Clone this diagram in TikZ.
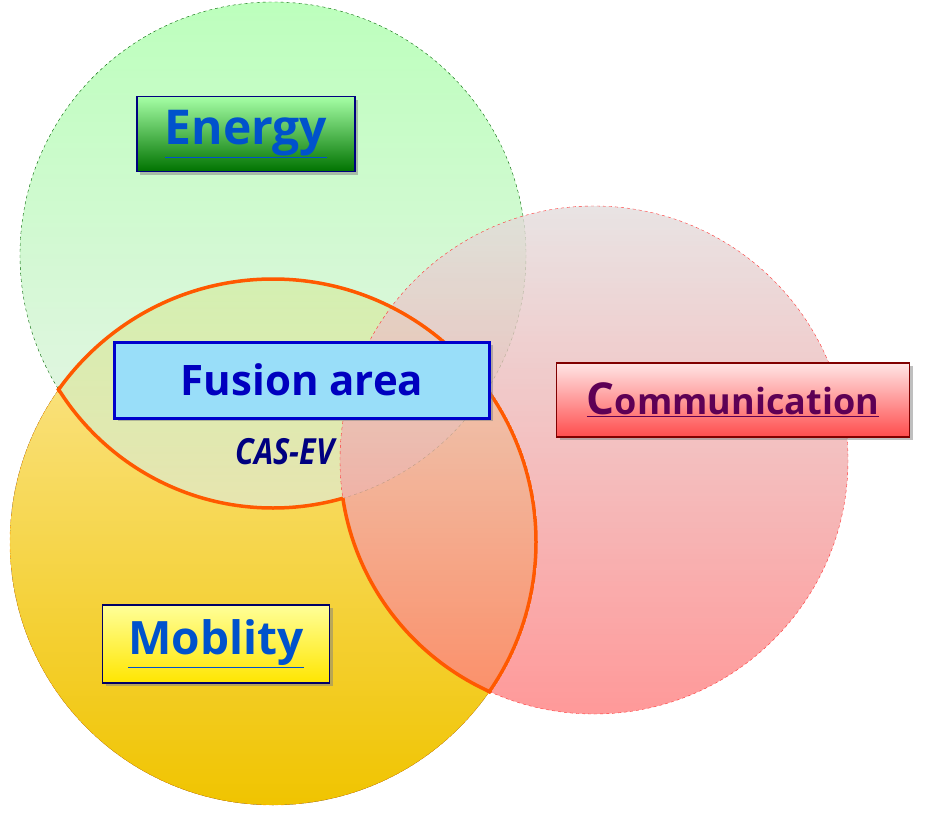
\documentclass[tikz,border=0pt]{standalone}
\usepackage{fontspec}
\setmainfont{Open Sans}
\usetikzlibrary{shadows}
\definecolor{ytop}{HTML}{FCE89A}
\definecolor{ybot}{HTML}{F0C400}
\begin{document}
\begin{tikzpicture}[x=1pt,y=-1pt,
  lbl/.style={draw=#1,line width=1.5pt,inner sep=0pt,font=\bfseries,drop shadow={shadow xshift=3pt,shadow yshift=-3pt,opacity=0.5}},
  orl/.style={draw=orange!70!red,line width=3.5pt}]
\useasboundingbox (0,0) rectangle (932,816);
\def\G{(273,255) circle (253)}
\def\P{(594,460) circle (254)}
\def\Y{(273,542) circle (263)}
% yellow
\fill[top color=ytop,bottom color=ybot] \Y;
\draw[orange!80!yellow,dashed] \Y;
\shade[top color=green!40,bottom color=green!25!gray!20!white,opacity=0.65] \G;
\draw[green!40!black,dashed] \G;
\shade[top color=red!10!gray!25!white,bottom color=red!35!pink,opacity=0.78] \P;
\draw[red!80,dashed] \P;
% fusion outline
\begin{scope}
\clip (273,542) circle (265);
\begin{scope}
\clip (-10,-10) rectangle (950,830) (594,460) circle (254);
\draw[orl] \G;
\end{scope}
\begin{scope}
\clip (-10,-10) rectangle (950,830) (273,255) circle (253);
\draw[orl] \P;
\end{scope}
\begin{scope}
\clip (273,255) circle (255) (594,460) circle (256);
\draw[orl] \Y;
\end{scope}
\end{scope}
% labels
\node[lbl=blue!50!black,top color=green!35!white,bottom color=green!45!black,minimum width=218,minimum height=75,font=\bfseries\fontsize{48}{50}\selectfont] (en) at (246,134) {\textcolor{blue!60!cyan!80!black}{\underline{Energy}}};
\node[lbl=blue!80!black,line width=3pt,fill=cyan!40,minimum width=375,minimum height=76,font=\bfseries\fontsize{42}{46}\selectfont,drop shadow={opacity=0}] (fu) at (302,380) {\textcolor{blue!75!black}{Fusion area}};
\node[font=\bfseries\itshape\fontsize{36}{38}\selectfont,text=blue!50!black,xscale=0.85] (cas) at (285,452) {CAS-EV};
\node[lbl=red!50!black,top color=pink!40!white,bottom color=red!70,minimum width=353,minimum height=74,font=\bfseries\fontsize{36}{40}\selectfont] (co) at (733,400) {\textcolor{blue!30!purple!70!black}{\underline{{\fontsize{44}{46}\selectfont C}ommunication}}};
\node[lbl=blue!40!black,top color=yellow!40!white,bottom color=yellow!80!orange,minimum width=227,minimum height=78,font=\bfseries\fontsize{46}{48}\selectfont] (mo) at (216,644) {\textcolor{blue!60!cyan!80!black}{\underline{Moblity}}};
\end{tikzpicture}
\end{document}
